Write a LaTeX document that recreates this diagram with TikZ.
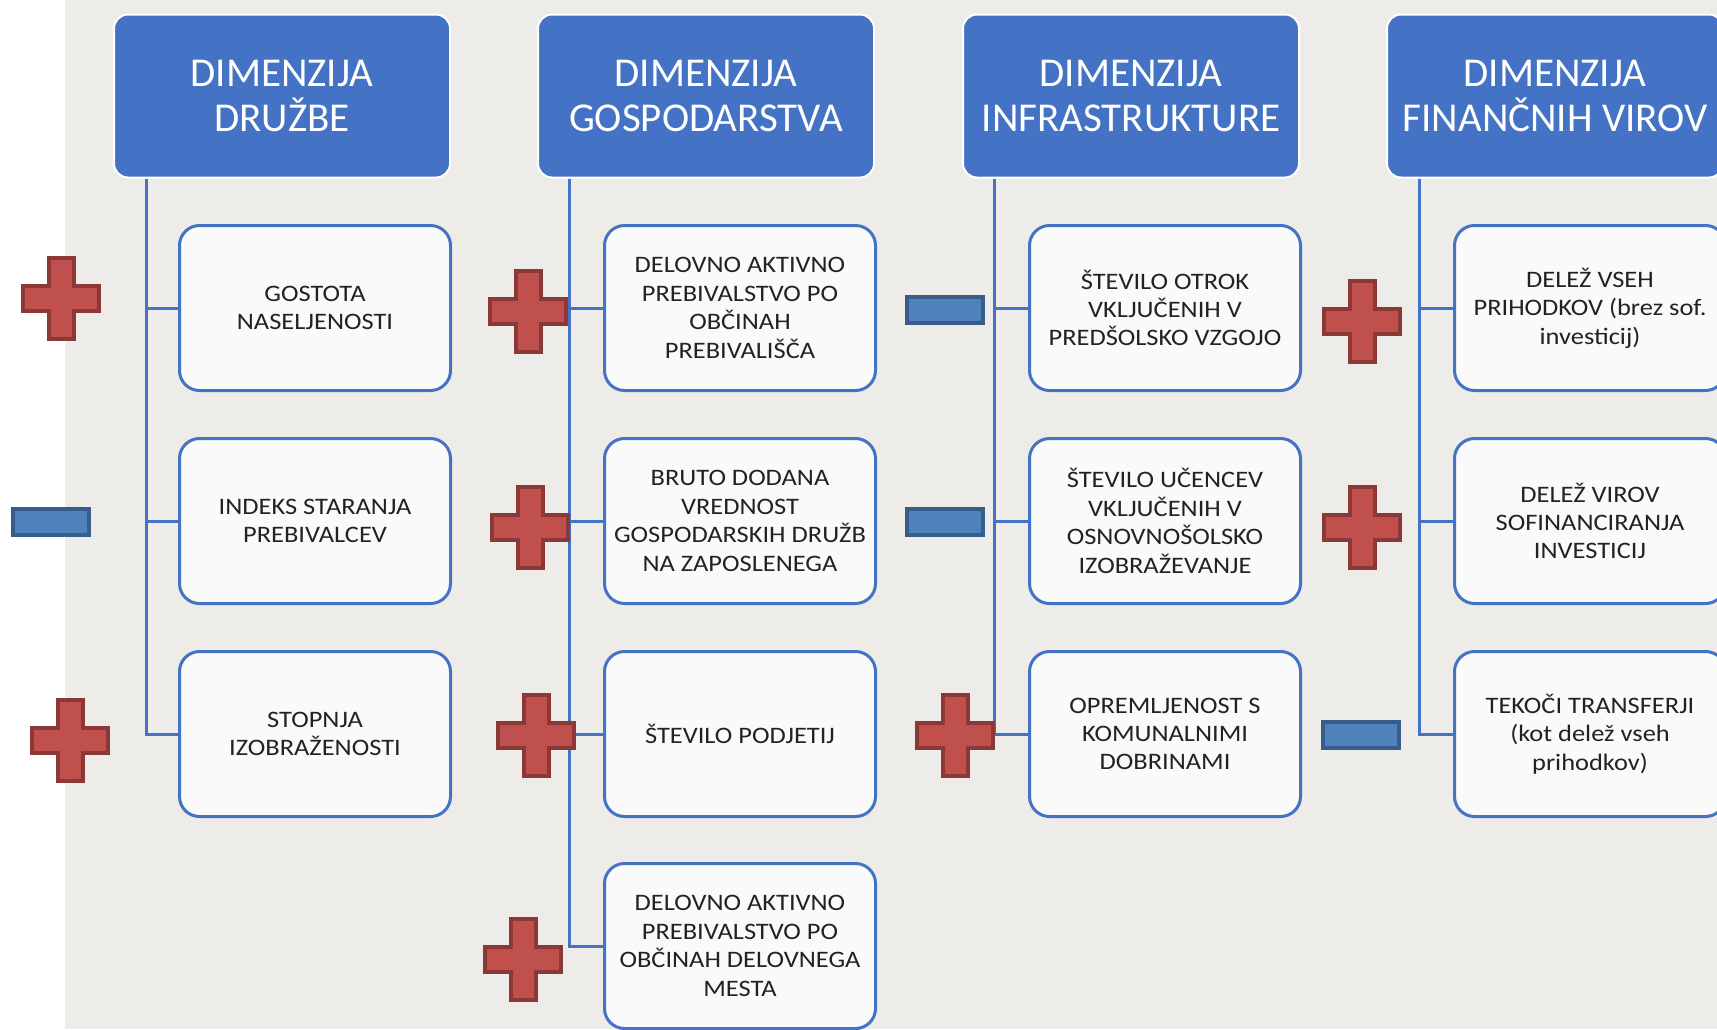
\documentclass[tikz,border=0pt]{standalone}
\usepackage{fontspec}
\usepackage{xcolor}
\setmainfont{Carlito}
\newfontfamily\okvirfont{Carlito}[FakeStretch=1.12]
\definecolor{modra}{HTML}{4472C4}
\definecolor{ozadje}{HTML}{EEECE8}
\definecolor{polje}{HTML}{FAFAFA}
\definecolor{besedilo}{HTML}{222222}
\definecolor{rdeca}{HTML}{C0504D}
\definecolor{temnordeca}{HTML}{8C3836}
\definecolor{minusmodra}{HTML}{4F81BD}
\definecolor{temnomodra}{HTML}{385D8A}
\newcommand{\krizec}[2]{\draw[znakplus, shift={(#1,#2)}] (-12.5,-40.5) -- (12.5,-40.5) -- (12.5,-12.5) -- (38,-12.5) -- (38,12.5) -- (12.5,12.5) -- (12.5,40.5) -- (-12.5,40.5) -- (-12.5,12.5) -- (-38,12.5) -- (-38,-12.5) -- (-12.5,-12.5) -- cycle;}

\begin{document}
\begin{tikzpicture}[x=0.5pt,y=-0.5pt,
  glava/.style={rectangle, rounded corners=7pt, fill=modra, draw=white, line width=1pt, text=white, minimum width=168pt, minimum height=81.5pt, align=center, font=\fontsize{20.5}{22.5}\selectfont},
  kazalnik/.style={rectangle, rounded corners=10pt, fill=polje, draw=modra, line width=1.5pt, text=besedilo, minimum width=135.5pt, minimum height=82.5pt, align=center, font=\okvirfont\fontsize{11.8}{14.2}\selectfont},
  veja/.style={modra, line width=1.5pt},
  znakminus/.style={rectangle, fill=minusmodra, draw=temnomodra, line width=2pt, minimum width=38pt, minimum height=13pt, inner sep=0pt},
  znakplus/.style={fill=rdeca, draw=temnordeca, line width=2pt}]
\useasboundingbox (0,0) rectangle (1717,1029);
\fill[white] (0,0) rectangle (1717,1029);
\fill[ozadje] (65,0) rectangle (1717,1029);
\node [glava] (g1) at (282,96) {DIMENZIJA\\DRUŽBE};
\node [glava] (g2) at (706,96) {DIMENZIJA\\GOSPODARSTVA};
\node [glava] (g3) at (1131,96) {DIMENZIJA\\INFRASTRUKTURE};
\node [glava] (g4) at (1555,96) {DIMENZIJA\\FINANČNIH VIROV};
\node [kazalnik] (k11) at (315,308) {GOSTOTA\\NASELJENOSTI};
\node [kazalnik] (k12) at (315,521) {INDEKS STARANJA\\PREBIVALCEV};
\node [kazalnik] (k13) at (315,734) {STOPNJA\\IZOBRAŽENOSTI};
\node [kazalnik] (k21) at (740,308) {DELOVNO AKTIVNO\\PREBIVALSTVO PO\\OBČINAH\\PREBIVALIŠČA};
\node [kazalnik] (k22) at (740,521) {BRUTO DODANA\\VREDNOST\\GOSPODARSKIH DRUŽB\\NA ZAPOSLENEGA};
\node [kazalnik] (k23) at (740,734) {ŠTEVILO PODJETIJ};
\node [kazalnik] (k24) at (740,946) {DELOVNO AKTIVNO\\PREBIVALSTVO PO\\OBČINAH DELOVNEGA\\MESTA};
\node [kazalnik] (k31) at (1165,308) {ŠTEVILO OTROK\\VKLJUČENIH V\\PREDŠOLSKO VZGOJO};
\node [kazalnik] (k32) at (1165,521) {ŠTEVILO UČENCEV\\VKLJUČENIH V\\OSNOVNOŠOLSKO\\IZOBRAŽEVANJE};
\node [kazalnik] (k33) at (1165,734) {OPREMLJENOST S\\KOMUNALNIMI\\DOBRINAMI};
\node [kazalnik] (k41) at (1590,308) {DELEŽ VSEH\\PRIHODKOV (brez sof.\\investicij)};
\node [kazalnik] (k42) at (1590,521) {DELEŽ VIROV\\SOFINANCIRANJA\\INVESTICIJ};
\node [kazalnik] (k43) at (1590,734) {TEKOČI TRANSFERJI\\(kot delež vseh\\prihodkov)};
\coordinate (d1) at ([xshift=16.5pt]g1.south west);
\coordinate (d2) at ([xshift=16pt]g2.south west);
\coordinate (d3) at ([xshift=16pt]g3.south west);
\coordinate (d4) at ([xshift=16.5pt]g4.south west);
\draw[veja] (d1) |- (k13.west);
\draw[veja] (d1 |- k11.west) -- (k11.west);
\draw[veja] (d1 |- k12.west) -- (k12.west);
\draw[veja] (d2) |- (k24.west);
\draw[veja] (d2 |- k21.west) -- (k21.west);
\draw[veja] (d2 |- k22.west) -- (k22.west);
\draw[veja] (d2 |- k23.west) -- (k23.west);
\draw[veja] (d3) |- (k33.west);
\draw[veja] (d3 |- k31.west) -- (k31.west);
\draw[veja] (d3 |- k32.west) -- (k32.west);
\draw[veja] (d4) |- (k43.west);
\draw[veja] (d4 |- k41.west) -- (k41.west);
\draw[veja] (d4 |- k42.west) -- (k42.west);
\krizec{61}{298}
\krizec{70}{740}
\krizec{528}{311}
\krizec{530}{527}
\krizec{536}{735}
\krizec{523}{959}
\krizec{955}{735}
\krizec{1362}{321}
\krizec{1362}{527}
\node [znakminus] (m12) at (51,522) {};
\node [znakminus] (m31) at (945,310) {};
\node [znakminus] (m32) at (945,522) {};
\node [znakminus] (m43) at (1361,735) {};
\end{tikzpicture}
\end{document}
